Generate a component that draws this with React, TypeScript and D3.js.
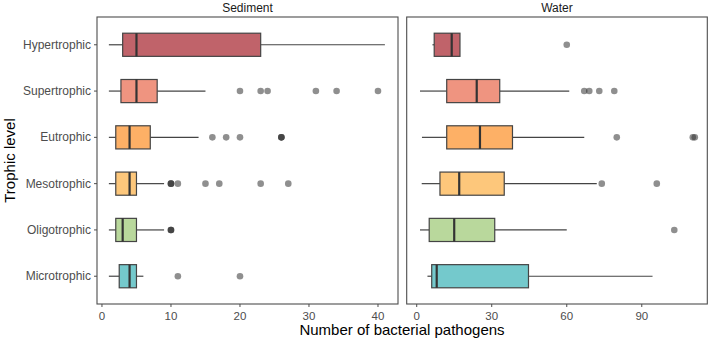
import * as d3 from "d3";

// trophic levels, top to bottom
const levels = ["Hypertrophic", "Supertrophic", "Eutrophic", "Mesotrophic", "Oligotrophic", "Microtrophic"];
const fills = ["#c0636a", "#ef9480", "#fdb066", "#fdc77b", "#b9d89c", "#74c9cc"];

// Sediment box stats
const sedLow = [1, 1, 1, 1, 1, 1];
const sedQ1 = [3, 2.75, 2, 2, 2, 2.5];
const sedMed = [5, 5, 4, 4, 3, 4];
const sedQ3 = [23, 8, 7, 5, 5, 5];
const sedHigh = [41, 15, 14, 9, 9, 6];
const sedOut = [
  [],
  [20, 23, 24, 31, 34, 40],
  [16, 18, 20, 26, 26, 26],
  [10, 10, 10, 11, 15, 17, 23, 27],
  [10, 10, 10],
  [11, 20],
];
const sedTicks = [0, 10, 20, 30, 40];

// Water box stats
const watLow = [6.3, 1.3, 2.1, 2, 1.3, 4.3];
const watQ1 = [7, 12, 12, 9.3, 5, 6];
const watMed = [14, 24, 25.3, 17, 15, 8];
const watQ3 = [17.3, 33.2, 38.3, 35, 31.2, 44.7];
const watHigh = [17.3, 61, 67, 72, 60, 94.3];
const watOut = [[60], [67, 69, 73, 79], [80, 110.4, 111.2], [74, 96], [103], []];
const watTicks = [0, 30, 60, 90];

const font = "'Liberation Sans', Arial, sans-serif";
const top = 17;
const bottom = 304;

type PanelProps = {
  title: string;
  x0: number;
  x1: number;
  domain: [number, number];
  ticks: number[];
  lo: number[];
  q1: number[];
  med: number[];
  q3: number[];
  hi: number[];
  out: number[][];
};

const y = d3.scalePoint<string>().domain(levels).range([top, bottom]).padding(0.6);
const boxH = y.step() * 0.5;

function Panel({ title, x0, x1, domain, ticks, lo, q1, med, q3, hi, out }: PanelProps) {
  const x = d3.scaleLinear().domain(domain).range([x0, x1]);
  return (
    <g>
      <text x={(x0 + x1) / 2} y={12} textAnchor="middle" fontSize={12} fill="#1a1a1a" fontFamily={font}>
        {title}
      </text>
      {levels.map((lv, i) => {
        const cy = y(lv)!;
        return (
          <g key={lv}>
            <line x1={x(lo[i])} x2={x(q1[i])} y1={cy} y2={cy} stroke="#444" strokeWidth={1.2} />
            <line x1={x(q3[i])} x2={x(hi[i])} y1={cy} y2={cy} stroke="#444" strokeWidth={1.2} />
            <rect
              x={x(q1[i])}
              y={cy - boxH / 2}
              width={x(q3[i]) - x(q1[i])}
              height={boxH}
              fill={fills[i]}
              stroke="#444"
              strokeWidth={1.2}
            />
            <line x1={x(med[i])} x2={x(med[i])} y1={cy - boxH / 2} y2={cy + boxH / 2} stroke="#333" strokeWidth={2.2} />
            {out[i].map((v, j) => (
              <circle key={j} cx={x(v)} cy={cy} r={3.3} fill="#333" fillOpacity={0.55} />
            ))}
          </g>
        );
      })}
      <rect x={x0} y={top} width={x1 - x0} height={bottom - top} fill="none" stroke="#4d4d4d" strokeWidth={1.1} />
      {ticks.map((t) => (
        <g key={t}>
          <line x1={x(t)} x2={x(t)} y1={bottom} y2={bottom + 3} stroke="#4d4d4d" strokeWidth={1} />
          <text x={x(t)} y={320} textAnchor="middle" fontSize={11.5} fill="#4d4d4d" fontFamily={font}>
            {t}
          </text>
        </g>
      ))}
    </g>
  );
}

export default function App() {
  return (
    <svg width={709} height={341} style={{ position: "absolute", left: 0, top: 0, background: "#fff" }}>
      <text
        transform={`translate(15,${(top + bottom) / 2}) rotate(-90)`}
        textAnchor="middle"
        fontSize={15}
        fill="#000"
        fontFamily={font}
      >
        Trophic level
      </text>
      {levels.map((lv) => (
        <g key={lv}>
          <line x1={94} x2={97} y1={y(lv)} y2={y(lv)} stroke="#4d4d4d" strokeWidth={1} />
          <text x={91} y={y(lv)! + 4} textAnchor="end" fontSize={12} fill="#4d4d4d" fontFamily={font}>
            {lv}
          </text>
        </g>
      ))}
      <Panel
        title="Sediment"
        x0={97}
        x1={398}
        domain={[-0.72, 42.9]}
        ticks={sedTicks}
        lo={sedLow}
        q1={sedQ1}
        med={sedMed}
        q3={sedQ3}
        hi={sedHigh}
        out={sedOut}
      />
      <Panel
        title="Water"
        x0={406.7}
        x1={707.3}
        domain={[-4, 116.2]}
        ticks={watTicks}
        lo={watLow}
        q1={watQ1}
        med={watMed}
        q3={watQ3}
        hi={watHigh}
        out={watOut}
      />
      <text x={402} y={335} textAnchor="middle" fontSize={15} fill="#000" fontFamily={font}>
        Number of bacterial pathogens
      </text>
    </svg>
  );
}
